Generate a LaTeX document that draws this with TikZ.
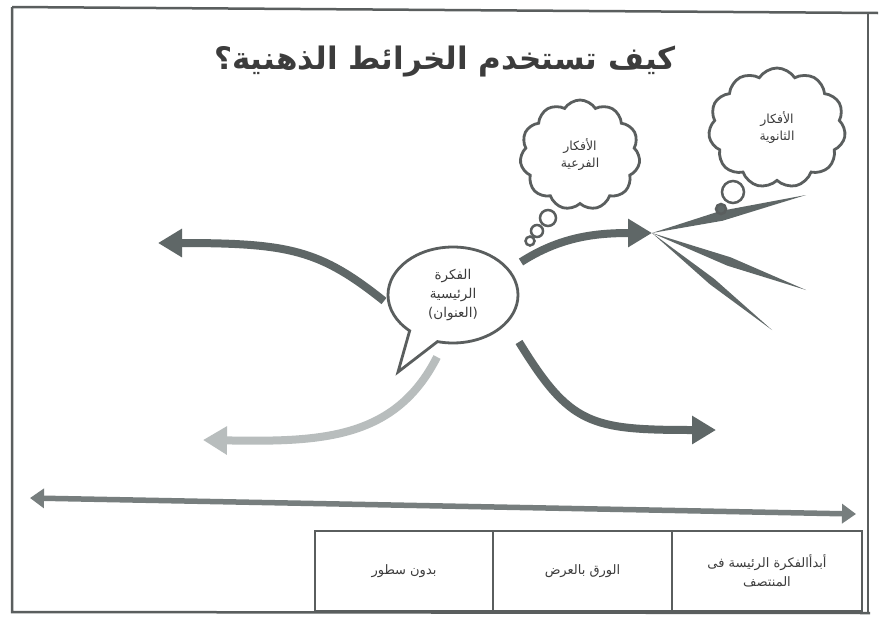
\documentclass[tikz,border=0pt]{standalone}
\usepackage{fontspec}
\setmainfont{DejaVu Sans}
\newfontfamily\arabicfont[Script=Arabic]{DejaVu Sans}
\TeXXeTstate=1
\usetikzlibrary{arrows.meta,shapes.symbols,shapes.callouts,calc}
\definecolor{framegray}{HTML}{5A5E5E}
\definecolor{arrowgray}{HTML}{5F6767}
\definecolor{lightgray2}{HTML}{B8BDBD}
\definecolor{txtgray}{HTML}{3C3C3C}
\begin{document}
\begin{tikzpicture}[x=1pt,y=-1pt,
  frame/.style={draw=framegray, line width=2.5pt},
  bigarrow/.style={draw=arrowgray, line width=8pt, -{Triangle[length=24pt,width=27pt]}},
  thoughtcloud/.style={cloud, cloud puffs=11, cloud puff arc=115, draw=framegray, line width=2.8pt, fill=white, text=txtgray, align=center, font=\arabicfont\fontsize{12.5}{17}\selectfont},
  thoughtdot/.style={circle, draw=framegray, line width=2.5pt, fill=white, inner sep=0pt},
  cell/.style={draw=framegray, line width=2.5pt, align=center, text=txtgray, font=\arabicfont\fontsize{13}{19}\selectfont, inner sep=0pt},
  spike/.style={fill=arrowgray}
]
\useasboundingbox (0,0) rectangle (880,627);
\fill[white] (0,0) rectangle (880,627);
% frame
\draw[frame] (12,7) -- (878,13);
\draw[frame] (12,7) -- (12,612) -- (870,613);
\draw[frame] (868,12) -- (868,614);

% title
\node[text=txtgray, font=\arabicfont\bfseries\fontsize{31}{36}\selectfont] (title) at (445,62) {\beginR كيف تستخدم الخرائط الذهنية؟\endR};

% central speech bubble
\node[ellipse callout, draw=framegray, line width=2.8pt, fill=white, minimum width=130, minimum height=96,
      callout absolute pointer={(398,372)}, callout pointer arc=28, text=txtgray, align=center, inner sep=1pt,
      font=\arabicfont\fontsize{13.5}{19}\selectfont] (main) at (453,295)
  {\beginR الفكرة\endR\\\beginR الرئيسية\endR\\\beginR (العنوان)\endR};

% coordinates for arrow ends
\coordinate (a1s) at (384,301);
\coordinate (a1e) at (158,243);
\coordinate (a2s) at (521,262);
\coordinate (apex) at (652,233);
\coordinate (a3s) at (519,342);
\coordinate (a3e) at (716,430);
\coordinate (a4s) at (437,357);
\coordinate (a4e) at (203,440);

\draw[bigarrow] (a1s) .. controls (320,250) and (290,243) .. (a1e);
\draw[bigarrow] (a2s) .. controls (560,237) and (595,233) .. (apex);
\draw[bigarrow] (a3s) .. controls (570,425) and (590,430) .. (a3e);
\draw[bigarrow, draw=lightgray2] (a4s) .. controls (395,440) and (320,442) .. (a4e);

% spikes
\coordinate (s1) at (806,195);
\coordinate (s2) at (806,290);
\coordinate (s3) at (772,330);
\fill[spike] (apex) -- ($(apex)!0.45!(s1)!5pt!90:(s1)$) -- (s1) -- ($(apex)!0.45!(s1)!5pt!-90:(s1)$) -- cycle;
\fill[spike] (apex) -- ($(apex)!0.5!(s2)!4.5pt!90:(s2)$) -- (s2) -- ($(apex)!0.5!(s2)!4.5pt!-90:(s2)$) -- cycle;
\fill[spike] (apex) -- ($(apex)!0.5!(s3)!3.5pt!90:(s3)$) -- (s3) -- ($(apex)!0.5!(s3)!3.5pt!-90:(s3)$) -- cycle;

% thought clouds
\node[thoughtcloud, minimum width=120, minimum height=110] (c1) at (580,155)
  {\beginR الأفكار\endR\\\beginR الفرعية\endR};
\node[thoughtdot, minimum size=16] (d11) at (548,218) {};
\node[thoughtdot, minimum size=12] (d12) at (537,231) {};
\node[thoughtdot, minimum size=9] (d13) at (530,241) {};

\node[thoughtcloud, minimum width=137, minimum height=120] (c2) at (777,128)
  {\beginR الأفكار\endR\\\beginR الثانوية\endR};
\node[thoughtdot, minimum size=22] (d21) at (733,192) {};
\node[thoughtdot, minimum size=10, fill=arrowgray] (d22) at (721,209) {};

% long double arrow
\coordinate (la) at (30,498);
\coordinate (lb) at (856,514);
\draw[draw=arrowgray!85, line width=5.5pt, {Triangle[length=14pt,width=19pt]}-{Triangle[length=14pt,width=19pt]}] (la) -- (lb);

% table
\node[cell, minimum width=178, minimum height=80] (t1) at (404,571) {\beginR بدون سطور\endR};
\node[cell, minimum width=179, minimum height=80] (t2) at (582.5,571) {\beginR الورق بالعرض\endR};
\node[cell, minimum width=190, minimum height=80] (t3) at (767,571) {\beginR أبدأالفكرة الرئيسة فى\endR\\\beginR المنتصف\endR};
\end{tikzpicture}
\end{document}
